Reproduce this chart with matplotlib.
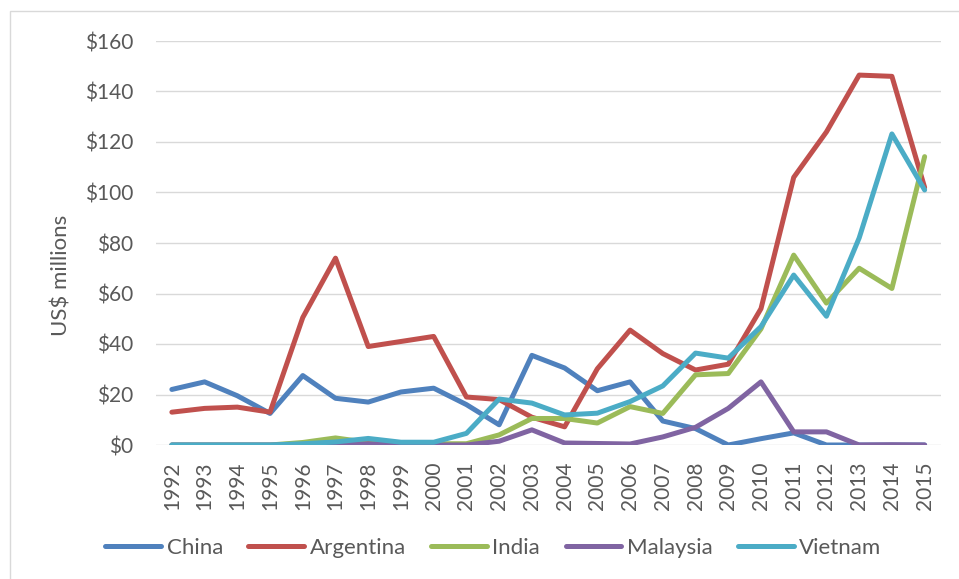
import matplotlib.pyplot as plt
from matplotlib.patches import Rectangle

years = [str(y) for y in range(1992, 2016)]

china = [22, 25, 19.5, 12.5, 27.5, 18.5, 17, 21, 22.5, 16, 8, 35.5,
         30.5, 21.5, 25, 9.5, 6.5, 0, 2.5, 4.8, 0, 0, 0, 0]
argentina = [13, 14.5, 15, 13, 50.5, 74, 39, 41, 43, 19, 18, 11,
             7.2, 30.2, 45.5, 36.2, 29.7, 32, 54, 106, 124, 146.5, 146, 102]
india = [0, 0, 0, 0, 1, 2.8, 1, 0.5, 0.5, 0.5, 4, 10.5,
         10.5, 8.7, 15.2, 12.5, 27.8, 28.3, 46, 75.2, 56.2, 70, 62, 114.2]
malaysia = [0, 0, 0, 0, 0, 0, 0.5, 0, 0, 0, 1.5, 6,
            0.8, 0.6, 0.4, 3.2, 7, 14.5, 25, 5.2, 5.2, 0, 0.1, 0]
vietnam = [0, 0, 0, 0, 0.5, 1.2, 2.6, 1.1, 1.1, 4.6, 18.2, 16.6,
           11.9, 12.6, 17.2, 23.4, 36.4, 34.4, 46.9, 67.3, 51, 82, 123.2, 101]

series = [("China", china, "#4F81BD"),
          ("Argentina", argentina, "#C0504D"),
          ("India", india, "#9BBB59"),
          ("Malaysia", malaysia, "#8064A2"),
          ("Vietnam", vietnam, "#4BACC6")]

yticks = list(range(0, 161, 20))

plt.rcParams['font.family'] = ['Lato', 'DejaVu Sans']
text_color = "#595959"

fig = plt.figure(figsize=(9.59, 5.79), dpi=100)
ax = fig.add_axes([155.5 / 959, 1 - 445 / 579, (941 - 155.5) / 959, (445 - 41) / 579])

x = list(range(len(years)))
for name, vals, col in series:
    ax.plot(x, vals, color=col, lw=3.6, label=name,
            solid_joinstyle='round', solid_capstyle='round')

ax.set_xlim(-0.5, len(years) - 0.5)
ax.set_ylim(0, 160)
ax.set_yticks(yticks)
ax.set_yticklabels([f"${v}" for v in yticks])
ax.set_xticks(x)
ax.set_xticklabels(years, rotation=90)
ax.tick_params(axis='y', length=0, pad=16, labelsize=15, labelcolor=text_color)
ax.tick_params(axis='x', length=0, pad=12, labelsize=15, labelcolor=text_color)
ax.grid(axis='y', color="#D9D9D9", lw=1.0)
ax.set_axisbelow(True)
for s in ax.spines.values():
    s.set_visible(False)

fig.text(62 / 959, 1 - 275 / 579, "US$ millions", rotation=90, ha='center',
         va='center', fontsize=16, color=text_color)

leg = fig.legend(loc='center', bbox_to_anchor=(0.5146, 1 - 548 / 579), ncol=5,
                 frameon=False, fontsize=16, handlelength=2.5,
                 handletextpad=0.25, columnspacing=1.15)
for t in leg.get_texts():
    t.set_color(text_color)

fig.patches.append(Rectangle((10 / 959, -0.1), 2, 1 - 11 / 579 + 0.1,
                             transform=fig.transFigure, fill=False,
                             edgecolor="#D9D9D9", lw=1.0))

fig.savefig("out.png", dpi=100)
